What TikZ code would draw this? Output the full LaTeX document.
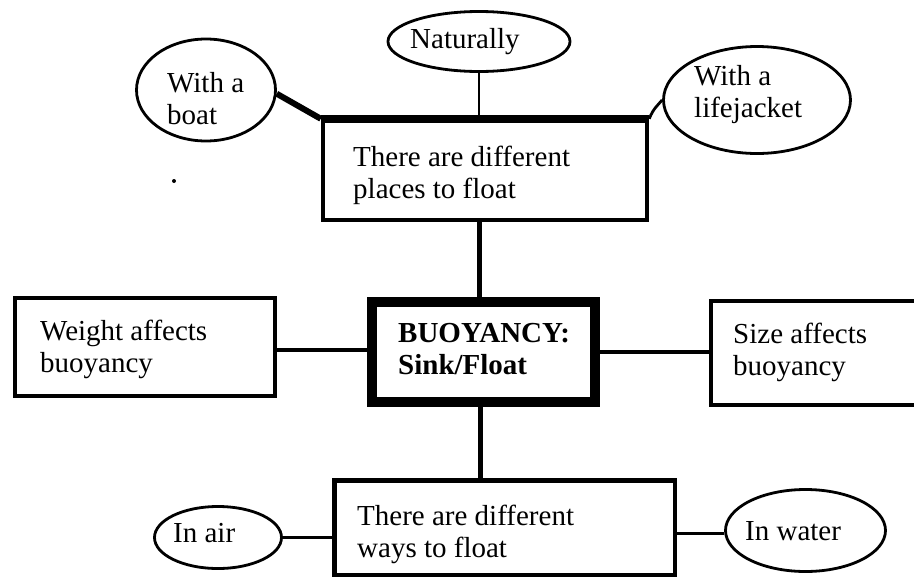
\documentclass[tikz,border=0pt]{standalone}
\usepackage{fontspec}
\setmainfont{Liberation Serif}
\usetikzlibrary{shapes.geometric,calc}
\begin{document}
\begin{tikzpicture}[x=1pt,y=-1pt,
  txt/.style={font=\fontsize{29}{32}\selectfont, inner sep=0pt, anchor=base west, align=left},
  box/.style={draw, rectangle, inner sep=0pt},
  oval/.style={draw, line width=2.8pt, ellipse, inner sep=0pt},
  conn/.style={line width=4pt}]
\useasboundingbox (0,0) rectangle (914,579);
% boxes
\node[box, line width=4.5pt, minimum width=324pt, minimum height=99pt] (top) at (485,170.5) {};
\draw[line width=7pt] (top.north west) -- (top.north east);
\node[box, line width=4pt, minimum width=260pt, minimum height=98pt] (weight) at (145,347) {};
\node[box, line width=10pt, minimum width=223pt, minimum height=100pt] (buoy) at (483.5,352) {};
\node[box, line width=4pt, minimum width=219pt, minimum height=104pt] (size) at (820.5,353) {};
\node[box, line width=4.5pt, minimum width=340.5pt, minimum height=94.5pt] (bot) at (504.5,527.5) {};
% ovals
\node[oval, minimum width=182pt, minimum height=60pt] (nat) at (479,41.5) {};
\node[oval, minimum width=139pt, minimum height=102pt] (boat) at (206,90) {};
\node[oval, minimum width=187pt, minimum height=107pt] (life) at (757,100) {};
\node[oval, minimum width=127pt, minimum height=62pt] (air) at (218,537.5) {};
\node[oval, minimum width=160pt, minimum height=82pt] (water) at (805.5,530.5) {};
% texts (base anchor = baseline of the last line)
\node[txt] (topT) at (353,198) {There are different\\places to float};
\node[txt] (weightT) at (40,372) {Weight affects\\buoyancy};
\node[txt, font=\fontsize{29}{32}\selectfont\bfseries] (buoyT) at (398,374) {BUOYANCY:\\Sink/Float};
\node[txt] (sizeT) at (733,375) {Size affects\\buoyancy};
\node[txt] (botT) at (357,557) {There are different\\ways to float};
\node[txt] (natT) at (410,48) {Naturally};
\node[txt] (boatT) at (167,124) {With a\\boat};
\node[txt] (lifeT) at (694,117) {With a\\lifejacket};
\node[txt] (airT) at (173,542) {In air};
\node[txt] (waterT) at (745,540) {In water};
% connectors
\coordinate (tc) at ($(top.south)+(-6,0)$);
\coordinate (wc) at ($(weight.east)+(0,3)$);
\coordinate (bc) at ($(buoy.south)+(-3.5,0)$);
\coordinate (wac) at ($(water.west)+(0,2.5)$);
\draw[line width=2.5pt] (nat.south) -- (nat.south |- top.north);
\draw[line width=6pt] (boat.-3) -- (top.north west);
\draw[line width=2.8pt] (top.north east) .. controls +(4,-10) and +(-5,6) .. (life.west);
\draw[line width=5pt] (tc) -- (tc |- buoy.north);
\draw[conn] (wc) -- (wc -| buoy.west);
\draw[conn] (buoy.east) -- (buoy.east -| size.west);
\draw[line width=5pt] (bc) -- (bc |- bot.north);
\draw[line width=3pt] (air.east) -- (air.east -| bot.west);
\draw[line width=3pt] (wac -| bot.east) -- (wac);
\fill (174,181) circle (2pt);
\end{tikzpicture}
\end{document}
